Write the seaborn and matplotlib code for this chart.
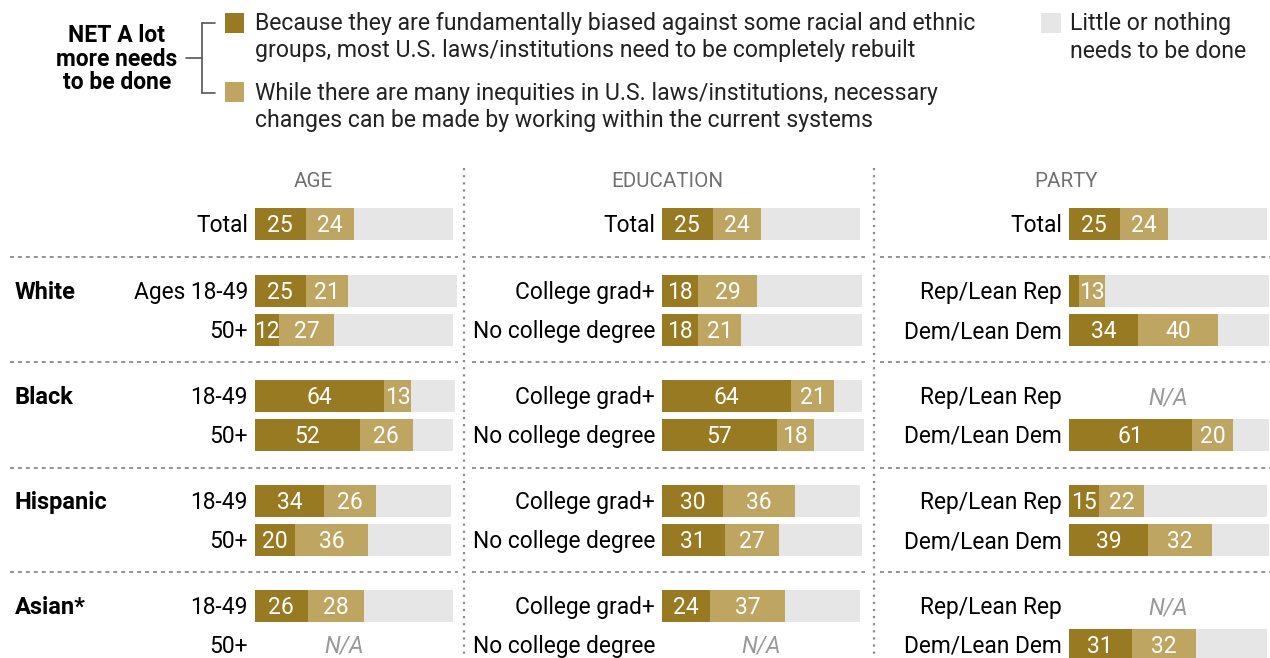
import numpy as np
import pandas as pd
import matplotlib
matplotlib.use("Agg")
import matplotlib.pyplot as plt
from matplotlib.patches import Rectangle
import seaborn as sns

# ---------------- data ----------------
groups = ["", "White", "", "Black", "", "Hispanic", "", "Asian*", ""]

age_rows = ["Total", "Ages 18-49", "50+", "18-49", "50+", "18-49", "50+", "18-49", "50+"]
age_dark = [25, 25, 12, 64, 52, 34, 20, 26, np.nan]
age_light = [24, 21, 27, 13, 26, 26, 36, 28, np.nan]
age_gray = [49, 54, 59, 22, 20, 37, 41, 44, np.nan]

edu_rows = ["Total", "College grad+", "No college degree", "College grad+", "No college degree",
            "College grad+", "No college degree", "College grad+", "No college degree"]
edu_dark = [25, 18, 18, 64, 57, 30, 31, 24, np.nan]
edu_light = [24, 29, 21, 21, 18, 36, 27, 37, np.nan]
edu_gray = [49, 52, 60, 14, 25, 32, 41, 37, np.nan]

party_rows = ["Total", "Rep/Lean Rep", "Dem/Lean Dem", "Rep/Lean Rep", "Dem/Lean Dem",
              "Rep/Lean Rep", "Dem/Lean Dem", "Rep/Lean Rep", "Dem/Lean Dem"]
party_dark = [25, 5, 34, np.nan, 61, 15, 39, np.nan, 31]
party_light = [24, 13, 40, np.nan, 20, 22, 32, np.nan, 32]
party_gray = [49, 81, 25, np.nan, 18, 61, 28, np.nan, 35]

panel_titles = ["AGE", "EDUCATION", "PARTY"]

legend_dark = "Because they are fundamentally biased against some racial and ethnic\ngroups, most U.S. laws/institutions need to be completely rebuilt"
legend_light = "While there are many inequities in U.S. laws/institutions, necessary\nchanges can be made by working within the current systems"
legend_gray = "Little or nothing\nneeds to be done"
net_label = "NET A lot\nmore needs\nto be done"

# ---------------- style ----------------
DARK = "#977A21"
LIGHT = "#BEA662"
GRAY = "#E6E6E6"

sns.set_style("white")
plt.rcParams["font.family"] = ["Roboto", "DejaVu Sans"]

W, H = 1270, 658
fig = plt.figure(figsize=(W / 100, H / 100), dpi=100)

bg = fig.add_axes([0, 0, 1, 1])
bg.set_xlim(0, W)
bg.set_ylim(H, 0)
bg.axis("off")

PX = 2.02  # pixels per percentage point
row_y = [224, 291, 330, 396, 435, 501, 540, 606, 645]
bar_h = 32
FS_LEG = 16.6
FS_ROW = 16.4
FS_VAL = 16.5

panels = [
    dict(rows=age_rows, dark=age_dark, light=age_light, gray=age_gray,
         x0=255, title_x=313, na_x=44),
    dict(rows=edu_rows, dark=edu_dark, light=edu_light, gray=edu_gray,
         x0=662, title_x=667, na_x=49),
    dict(rows=party_rows, dark=party_dark, light=party_light, gray=party_gray,
         x0=1069, title_x=1066, na_x=49),
]

width_frac = bar_h / 39.0
bar_kw = dict(orient="h", native_scale=True, saturation=1, width=width_frac,
              errorbar=None, linewidth=0, edgecolor="none")

for i, p in enumerate(panels):
    x0 = p["x0"]
    wpx = 212 if i < 2 else W - x0
    ax = fig.add_axes([x0 / W, 0, wpx / W, 1])
    df = pd.DataFrame({"y": row_y, "row": p["rows"], "dark": p["dark"],
                       "light": p["light"], "gray": p["gray"]})
    df["cum_light"] = df["dark"] + df["light"]
    df["cum_gray"] = df["cum_light"] + df["gray"]
    valid = df.dropna()
    sns.barplot(data=valid, x="cum_gray", y="y", color=GRAY, ax=ax, **bar_kw)
    sns.barplot(data=valid, x="cum_light", y="y", color=LIGHT, ax=ax, **bar_kw)
    sns.barplot(data=valid, x="dark", y="y", color=DARK, ax=ax, **bar_kw)
    ax.set_xlim(0, wpx / PX)
    ax.set_ylim(H, 0)
    ax.axis("off")

    for _, r in df.iterrows():
        y = r["y"]
        if np.isnan(r["dark"]):
            ax.text(p["na_x"], y + 8, "N/A", ha="center", va="baseline",
                    fontsize=FS_VAL, color="#999999", style="italic")
            continue
        if r["dark"] >= 10:
            ax.text(r["dark"] / 2, y + 8, f"{int(r['dark'])}", ha="center",
                    va="baseline", fontsize=FS_VAL, color="white")
        ax.text(r["dark"] + r["light"] / 2, y + 8, f"{int(r['light'])}",
                ha="center", va="baseline", fontsize=FS_VAL, color="white")

    # row labels
    for lab, y in zip(p["rows"], row_y):
        bg.text(x0 - 7, y + 8, lab, ha="right", va="baseline", fontsize=FS_ROW,
                color="black")
    # panel title
    bg.text(p["title_x"], 187, panel_titles[i], ha="center", va="baseline",
            fontsize=14.8, color="#707070")

# group labels
for g, y in zip(groups, row_y):
    if g:
        bg.text(15, y + 8, g, ha="left", va="baseline", fontsize=17,
                fontweight="bold", color="black")

# horizontal dashed separators
sep_y = [257, 362, 468, 572]
sep_x = [(10, 458), (472, 865), (880, 1270)]
for y in sep_y:
    for xa, xb in sep_x:
        bg.plot([xa, xb], [y, y], color="#8a8a8a", lw=1.3,
                linestyle=(0, (2.2, 2.2)), solid_capstyle="butt")

# vertical dotted separators
for x in [464, 874]:
    bg.plot([x, x], [168, H], color="#8a8a8a", lw=1.6,
            linestyle=(0, (1.0, 2.2)))

# legend
bg.add_patch(Rectangle((225, 13), 19, 20, color=DARK, lw=0))
bg.add_patch(Rectangle((225, 82), 19, 20, color=LIGHT, lw=0))
bg.add_patch(Rectangle((1041, 13), 20, 20, color=GRAY, lw=0))

def two_lines(x, y0, txt, step=27.5):
    for k, line in enumerate(txt.split("\n")):
        bg.text(x, y0 + k * step, line, ha="left", va="baseline",
                fontsize=FS_LEG, color="#222222")

two_lines(255, 30, legend_dark)
two_lines(255, 100, legend_light)
two_lines(1070, 30, legend_gray)

for k, line in enumerate(net_label.split("\n")):
    bg.text(117, 42 + k * 23.5, line, ha="center", va="baseline",
            fontsize=16.5, fontweight="bold", color="black")

# bracket
bc = "#555555"
bg.plot([186, 202], [58, 58], color=bc, lw=1.2)
bg.plot([202, 202], [23, 93], color=bc, lw=1.2)
bg.plot([202, 215], [23, 23], color=bc, lw=1.2)
bg.plot([202, 215], [93, 93], color=bc, lw=1.2)

fig.savefig("out.png", dpi=100)
